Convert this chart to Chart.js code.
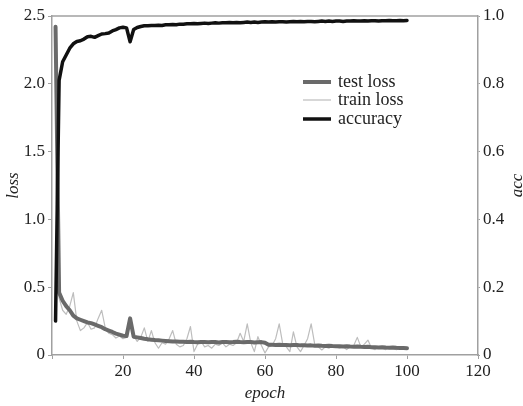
<!DOCTYPE html>
<html><head><meta charset="utf-8">
<script src="https://cdn.jsdelivr.net/npm/chart.js@4/dist/chart.umd.min.js"></script>
<style>html,body{margin:0;padding:0;background:#fff}#wrap{width:523px;height:406px}</style>
</head><body><div id="wrap"><canvas id="c" width="523" height="406"></canvas></div>
<script>
const epochs = [1,2,3,4,5,6,7,8,9,10,11,12,13,14,15,16,17,18,19,20,
21,22,23,24,25,26,27,28,29,30,31,32,33,34,35,36,37,38,39,40,
41,42,43,44,45,46,47,48,49,50,51,52,53,54,55,56,57,58,59,60,
61,62,63,64,65,66,67,68,69,70,71,72,73,74,75,76,77,78,79,80,
81,82,83,84,85,86,87,88,89,90,91,92,93,94,95,96,97,98,99,100];

const testLoss = [2.42,0.46,0.40,0.36,0.33,0.29,0.27,0.26,0.25,0.24,
0.235,0.225,0.215,0.205,0.19,0.18,0.17,0.158,0.15,0.142,
0.14,0.27,0.135,0.13,0.125,0.12,0.116,0.113,0.11,0.108,
0.106,0.104,0.102,0.1,0.1,0.098,0.097,0.096,0.097,0.095,
0.094,0.096,0.095,0.094,0.096,0.095,0.093,0.095,0.096,0.094,
0.095,0.097,0.095,0.094,0.096,0.095,0.093,0.094,0.095,0.09,
0.076,0.075,0.074,0.076,0.074,0.073,0.072,0.074,0.073,0.071,
0.072,0.07,0.071,0.069,0.07,0.068,0.067,0.068,0.066,0.065,
0.064,0.063,0.064,0.062,0.061,0.062,0.06,0.059,0.06,0.058,
0.057,0.056,0.057,0.055,0.054,0.055,0.053,0.052,0.051,0.05];

const trainLoss = [2.2,0.42,0.33,0.30,0.36,0.46,0.25,0.18,0.20,0.24,
0.19,0.20,0.27,0.33,0.20,0.16,0.15,0.125,0.14,0.12,
0.13,0.22,0.14,0.10,0.13,0.20,0.10,0.18,0.09,0.05,
0.09,0.08,0.12,0.18,0.08,0.06,0.07,0.12,0.21,0.025,
0.08,0.10,0.06,0.07,0.05,0.08,0.07,0.09,0.06,0.08,
0.07,0.09,0.16,0.10,0.23,0.09,0.025,0.135,0.07,0.015,
0.06,0.07,0.12,0.23,0.08,0.06,0.025,0.17,0.06,0.025,
0.07,0.12,0.23,0.08,0.06,0.037,0.06,0.05,0.07,0.06,
0.05,0.06,0.04,0.06,0.07,0.13,0.06,0.08,0.11,0.05,
0.04,0.06,0.05,0.04,0.06,0.05,0.04,0.05,0.06,0.05];

const accuracy = [0.10,0.81,0.865,0.885,0.905,0.918,0.925,0.927,0.932,0.939,
0.94,0.937,0.942,0.947,0.948,0.95,0.956,0.96,0.965,0.967,
0.965,0.924,0.96,0.966,0.969,0.971,0.971,0.972,0.972,0.973,
0.972,0.974,0.974,0.975,0.974,0.976,0.976,0.977,0.977,0.978,
0.977,0.978,0.979,0.978,0.979,0.98,0.979,0.98,0.98,0.981,
0.98,0.981,0.98,0.981,0.982,0.981,0.982,0.981,0.982,0.983,
0.982,0.983,0.982,0.983,0.983,0.982,0.983,0.984,0.983,0.984,
0.983,0.984,0.984,0.983,0.984,0.985,0.984,0.985,0.984,0.985,
0.985,0.984,0.985,0.985,0.986,0.985,0.985,0.986,0.985,0.986,
0.986,0.985,0.986,0.986,0.987,0.986,0.986,0.987,0.986,0.987];

const xTicks = [0,20,40,60,80,100,120];
const lossTicks = [0,0.5,1.0,1.5,2.0,2.5];
const accTicks = [0,0.2,0.4,0.6,0.8,1.0];
const seriesNames = ['test loss','train loss','accuracy'];
const accTitle = 'acc';

const toPts = arr => epochs.map((e,i)=>({x:e,y:arr[i]}));
const serif = 'Liberation Serif, "Times New Roman", serif';
const axisCol = '#a0a0a0';
const txtCol = '#222';

const boxPlugin = {
  id:'box',
  afterDraw(chart){
    const {ctx, chartArea:a} = chart;
    ctx.save();
    ctx.strokeStyle = axisCol; ctx.lineWidth = 1.5;
    ctx.beginPath(); ctx.moveTo(a.left, a.top); ctx.lineTo(a.right, a.top); ctx.stroke();
    // legend
    const ds = chart.data.datasets;
    const x0 = a.left + 251, x1 = a.left + 279, tx = a.left + 286;
    const ys = [a.top + 66, a.top + 84, a.top + 103];
    ctx.font = '18px ' + serif;
    ctx.textBaseline = 'middle';
    ctx.fillStyle = txtCol;
    ds.forEach((d,i)=>{
      ctx.strokeStyle = d.borderColor; ctx.lineWidth = d.borderWidth;
      ctx.beginPath(); ctx.moveTo(x0, ys[i]); ctx.lineTo(x1, ys[i]); ctx.stroke();
      ctx.fillText(d.label, tx, ys[i]);
    });
    // right axis title, rotated like the left one
    ctx.translate(518, (a.top + a.bottom) / 2);
    ctx.rotate(-Math.PI / 2);
    ctx.font = 'italic 17px ' + serif;
    ctx.textAlign = 'center';
    ctx.fillText(accTitle, 0, 0);
    ctx.restore();
  }
};

new Chart(document.getElementById('c'), {
  type:'line',
  data:{datasets:[
    {label:seriesNames[0], data:toPts(testLoss), yAxisID:'y', borderColor:'#6a6a6a', borderWidth:4, order:1},
    {label:seriesNames[1], data:toPts(trainLoss), yAxisID:'y', borderColor:'#bdbdbd', borderWidth:1.2, order:2},
    {label:seriesNames[2], data:toPts(accuracy), yAxisID:'y1', borderColor:'#111', borderWidth:3.5, order:0}
  ]},
  options:{
    responsive:false, animation:false, devicePixelRatio:1,
    layout:{padding:{top:16,left:0,right:0,bottom:0}},
    plugins:{legend:{display:false}, tooltip:{enabled:false}},
    elements:{point:{radius:0}, line:{tension:0, borderJoinStyle:'round', borderCapStyle:'round'}},
    scales:{
      x:{type:'linear', min:0, max:120,
        afterBuildTicks(s){ s.ticks = xTicks.map(v=>({value:v})); },
        ticks:{callback:v=> v===0 ? '' : String(v), font:{family:serif,size:17}, color:txtCol, padding:2, maxRotation:0, autoSkip:false},
        grid:{drawOnChartArea:false, tickLength:4, color:axisCol, lineWidth:1},
        border:{color:axisCol, width:1.5},
        title:{display:true, text:'epoch', font:{family:serif,size:17,style:'italic'}, color:txtCol, padding:{top:0,bottom:2}},
        afterFit(s){ s.height = 51; }
      },
      y:{position:'left', min:0, max:2.5,
        afterBuildTicks(s){ s.ticks = lossTicks.map(v=>({value:v})); },
        ticks:{callback:v=> v===0 ? '0' : v.toFixed(1), font:{family:serif,size:17}, color:txtCol, padding:3},
        grid:{drawOnChartArea:false, tickLength:4, color:axisCol},
        border:{color:axisCol, width:1.5},
        title:{display:true, text:'loss', font:{family:serif,size:17,style:'italic'}, color:txtCol, padding:{top:3,bottom:0}},
        afterFit(s){ s.width = 52; }
      },
      y1:{position:'right', min:0, max:1,
        afterBuildTicks(s){ s.ticks = accTicks.map(v=>({value:v})); },
        ticks:{callback:v=> v===0 ? '0' : v.toFixed(1), font:{family:serif,size:17}, color:txtCol, padding:3},
        grid:{drawOnChartArea:false, tickLength:2, color:axisCol},
        border:{color:axisCol, width:1.5},
        title:{display:false},
        afterFit(s){ s.width = 45; }
      }
    }
  },
  plugins:[boxPlugin]
});
</script>
</body></html>
